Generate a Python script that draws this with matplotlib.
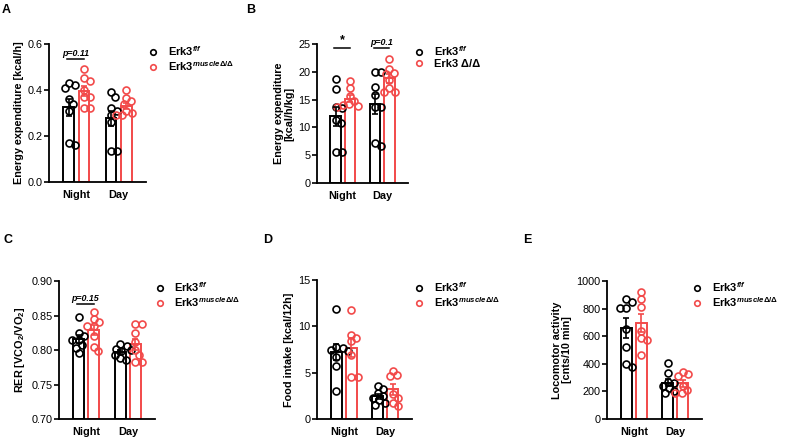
import numpy as np
import matplotlib

matplotlib.use("Agg")
import matplotlib.pyplot as plt
from matplotlib.lines import Line2D

plt.rcParams["font.family"] = ["Liberation Sans", "DejaVu Sans"]
plt.rcParams["mathtext.fontset"] = "custom"
plt.rcParams["mathtext.rm"] = "Liberation Sans:bold"
plt.rcParams["mathtext.it"] = "Liberation Sans:italic:bold"
plt.rcParams["mathtext.bf"] = "Liberation Sans:bold"

BLACK = "#000000"
RED = "#f24a4a"

groups = ["Night", "Day"]

# each list: [night values, day values]
ee_h_ctrl = [[0.43, 0.42, 0.41, 0.36, 0.34, 0.31, 0.17, 0.16],
             [0.39, 0.37, 0.32, 0.31, 0.29, 0.26, 0.135, 0.135]]
ee_h_ko = [[0.49, 0.45, 0.44, 0.40, 0.37, 0.37, 0.32, 0.32],
           [0.40, 0.365, 0.35, 0.34, 0.31, 0.30, 0.29, 0.29]]

ee_kg_ctrl = [[18.7, 16.9, 13.6, 13.4, 11.3, 10.8, 5.6, 5.6],
              [19.9, 19.9, 17.2, 15.8, 13.7, 13.7, 7.2, 6.7]]
ee_kg_ko = [[18.3, 17.0, 15.6, 14.8, 14.2, 14.0, 13.9, 13.7],
            [22.3, 20.5, 19.8, 19.6, 18.5, 17.0, 16.4, 16.4]]

rer_ctrl = [[0.848, 0.825, 0.821, 0.815, 0.815, 0.807, 0.803, 0.795],
            [0.808, 0.806, 0.802, 0.800, 0.798, 0.793, 0.788, 0.785]]
rer_ko = [[0.855, 0.845, 0.840, 0.835, 0.835, 0.820, 0.805, 0.798],
          [0.837, 0.837, 0.825, 0.811, 0.800, 0.793, 0.783, 0.783]]

food_ctrl = [[11.9, 7.8, 7.7, 7.5, 7.3, 6.7, 5.7, 3.0],
             [3.6, 3.2, 2.8, 2.5, 2.3, 2.0, 1.7, 1.5]]
food_ko = [[11.8, 9.1, 8.7, 8.4, 6.9, 4.5, 4.5],
           [5.2, 4.7, 4.6, 2.7, 2.3, 1.7, 1.4]]

loco_ctrl = [[870, 846, 802, 802, 650, 520, 396, 379],
             [403, 331, 270, 259, 240, 222, 200, 186]]
loco_ko = [[918, 870, 815, 640, 590, 570, 464],
           [343, 325, 315, 240, 210, 190, 185]]

lbl_ctrl = r"Erk3$^{f/f}$"
lbl_ko = r"Erk3$^{muscleΔ/Δ}$"
lbl_ko_b = "Erk3 Δ/Δ"

FS = 7.8
W, H = 790, 440
fig = plt.figure(figsize=(W / 100, H / 100), dpi=100)


def px_rect(left, right, bottom, top):
    return [left / W, 1 - bottom / H, (right - left) / W, (bottom - top) / H]


def swarm(ax, xc, vals, d=6.3):
    # simple beeswarm in pixel space
    pts = ax.transData.transform(np.column_stack([np.full(len(vals), xc), vals]))
    ypx = pts[:, 1]
    order = np.argsort(-ypx)
    placed = []
    xoff = np.zeros(len(vals))
    for i in order:
        cands = [0.0]
        for (px, py) in placed:
            dy = ypx[i] - py
            if abs(dy) < d:
                dx = np.sqrt(d * d - dy * dy)
                cands += [px + dx, px - dx]
        cands.sort(key=abs)
        for c in cands:
            if all((c - px) ** 2 + (ypx[i] - py) ** 2 >= d * d - 1e-6 for px, py in placed):
                xoff[i] = c
                break
        placed.append((xoff[i], ypx[i]))
    unit = ax.transData.transform((1, 0))[0] - ax.transData.transform((0, 0))[0]
    return xc + xoff / unit


def sig(ax, x0, x1, y, text, size=6.4, style="italic"):
    ax.plot([x0, x1], [y, y], color=BLACK, lw=1.1, clip_on=False)
    ax.annotate(text, ((x0 + x1) / 2, y), xytext=(0, 1), textcoords="offset points",
                ha="center", va="bottom", fontsize=size, fontweight="bold",
                fontstyle=style, annotation_clip=False)


def panel(rect, ctrl, ko, ylim, yticks, fmt, ylabel, letter, letter_px, leg_px, labels):
    ax = fig.add_axes(rect)
    ax.set_xlim(-0.65, 1.65)
    ax.set_ylim(*ylim)
    for i in range(len(groups)):
        for vals, off, col in ((ctrl[i], -0.18, BLACK), (ko[i], 0.18, RED)):
            v = np.array(vals, dtype=float)
            m = v.mean()
            sem = v.std(ddof=1) / np.sqrt(len(v))
            ax.bar(i + off, m - ylim[0], bottom=ylim[0], width=0.26, facecolor="white",
                   edgecolor=col, linewidth=1.4, zorder=2)
            xs = swarm(ax, i + off, v)
            ax.plot(xs, v, "o", ms=5, mfc="none", mec=col, mew=1.2, zorder=3, clip_on=False)
            ax.errorbar(i + off, m, yerr=sem, color=col, capsize=2.5, elinewidth=1.2,
                        capthick=1.2, zorder=4)
    ax.set_yticks(yticks)
    ax.set_yticklabels([fmt.format(t) for t in yticks])
    ax.set_xticks(range(len(groups)))
    ax.set_xticklabels(groups, fontweight="bold", fontsize=FS)
    ax.tick_params(axis="x", length=0, pad=5.5)
    ax.tick_params(axis="y", direction="out", length=3.5, width=1.2, labelsize=FS, pad=1)
    for s in ("top", "right"):
        ax.spines[s].set_visible(False)
    for s in ("left", "bottom"):
        ax.spines[s].set_linewidth(1.3)
    ax.set_ylabel(ylabel, fontweight="bold", fontsize=FS, labelpad=3, linespacing=1.1)
    fig.text(letter_px[0] / W, 1 - letter_px[1] / H, letter, fontsize=9,
             fontweight="bold", ha="left", va="top")
    handles = [Line2D([], [], ls="none", marker="o", ms=4, mfc="none", mec=c, mew=1.2)
               for c in (BLACK, RED)]
    ax.legend(handles, labels, loc="upper left",
              bbox_to_anchor=((leg_px[0] - 5.5) / W, 1 - (leg_px[1] - 7) / H),
              bbox_transform=fig.transFigure, frameon=False,
              prop={"weight": "bold", "size": 8}, handlelength=1.0,
              handletextpad=0.8, labelspacing=0.1, borderpad=0, borderaxespad=0)
    return ax


axA = panel(px_rect(49, 146, 182, 44), ee_h_ctrl, ee_h_ko, (0, 0.6), [0, 0.2, 0.4, 0.6],
            "{:.1f}", "Energy expenditure [kcal/h]", "A", (2, 4), (153, 51),
            [lbl_ctrl, lbl_ko])
sig(axA, -0.22, 0.18, 0.533, "p=0.11")

axB = panel(px_rect(317, 408, 183, 44), ee_kg_ctrl, ee_kg_ko, (0, 25), [0, 5, 10, 15, 20, 25],
            "{:.0f}", "Energy expenditure\n[kcal/h/kg]", "B", (246, 4), (419, 51),
            [lbl_ctrl, lbl_ko_b])
sig(axB, -0.22, 0.18, 24.3, "*", size=9, style="normal")
sig(axB, 0.78, 1.18, 24.3, "p=0.1")

axC = panel(px_rect(59, 155, 419, 281), rer_ctrl, rer_ko, (0.70, 0.90),
            [0.70, 0.75, 0.80, 0.85, 0.90], "{:.2f}", "RER [VCO$_2$/VO$_2$]", "C", (3, 234),
            (160, 287), [lbl_ctrl, lbl_ko])
sig(axC, -0.22, 0.18, 0.866, "p=0.15")

axD = panel(px_rect(317, 412, 419, 280), food_ctrl, food_ko, (0, 15), [0, 5, 10, 15],
            "{:.0f}", "Food intake [kcal/12h]", "D", (263, 234), (419, 287),
            [lbl_ctrl, lbl_ko])

axE = panel(px_rect(607, 702, 419, 281), loco_ctrl, loco_ko, (0, 1000),
            [0, 200, 400, 600, 800, 1000], "{:.0f}", "Locomotor activity\n[cnts/10 min]",
            "E", (523, 234), (697, 287), [lbl_ctrl, lbl_ko])

fig.savefig("out.png", dpi=100)
